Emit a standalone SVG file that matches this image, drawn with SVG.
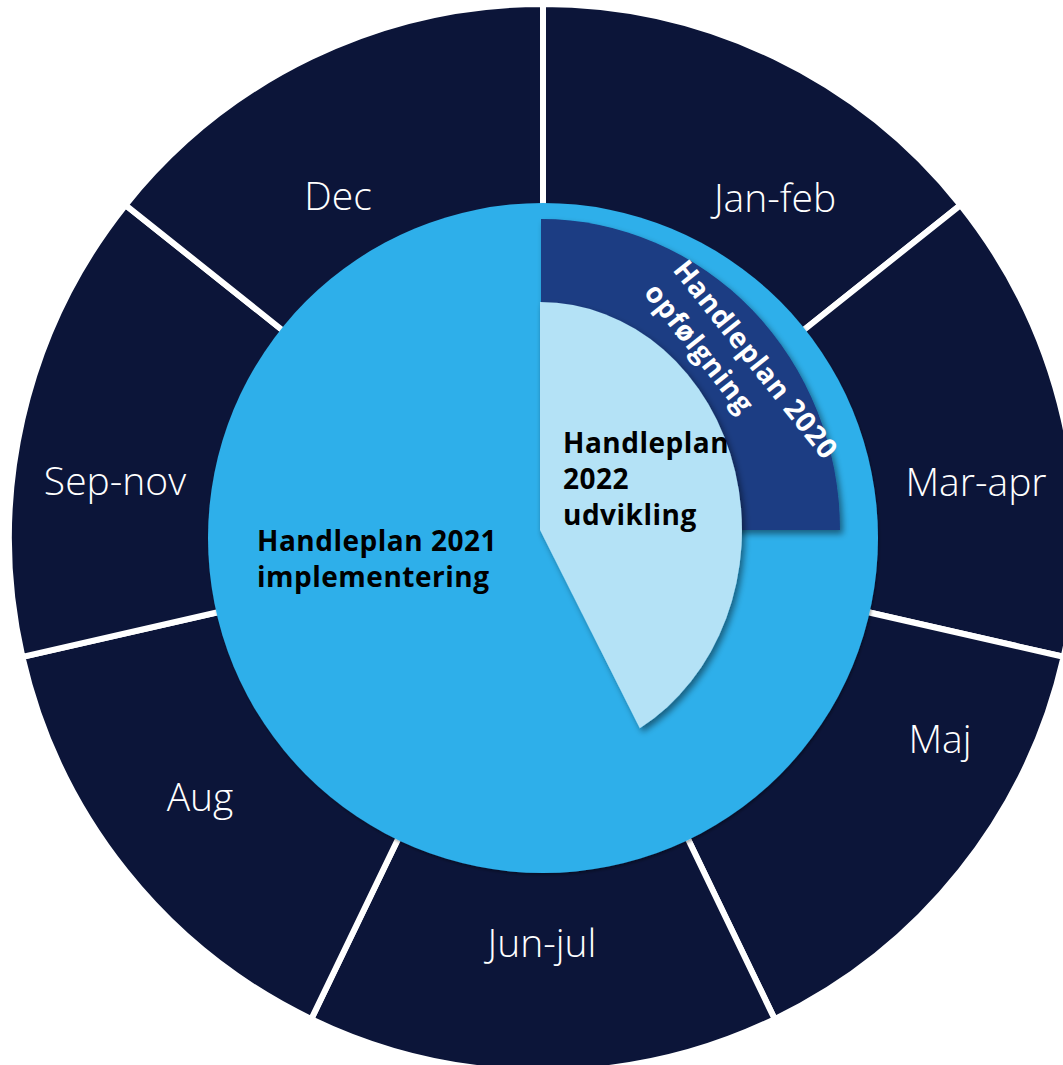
<svg xmlns="http://www.w3.org/2000/svg" width="1063" height="1065" viewBox="0 0 1063 1065">
<defs>
<style>
.seg{fill:#0c1539;stroke:#ffffff;stroke-width:6;stroke-linejoin:miter}
.mon{font-family:"Open Sans","Liberation Sans",sans-serif;font-weight:300;font-size:39px;fill:#ffffff;text-anchor:middle}
.lbl{font-family:"Open Sans","Liberation Sans",sans-serif;font-weight:700;font-size:28px;letter-spacing:0.5px;fill:#000000}
.lblw{font-family:"Open Sans","Liberation Sans",sans-serif;font-weight:700;font-size:28px;letter-spacing:0.8px;fill:#ffffff}
</style>
<filter id="sh" x="-10%" y="-10%" width="130%" height="130%">
<feDropShadow dx="3" dy="4" stdDeviation="3" flood-color="#000000" flood-opacity="0.45"/>
</filter>
<filter id="sh2" x="-5%" y="-5%" width="110%" height="110%">
<feDropShadow dx="1" dy="2" stdDeviation="1.5" flood-color="#000000" flood-opacity="0.35"/>
</filter>
</defs>
<rect width="1063" height="1065" fill="#ffffff"/>
<g id="ring">
<g id="seg-janfeb"><path class="seg" d="M543 4 A534 534 0 0 1 960.50 205.06 L793.19 338.48 A320 320 0 0 0 543 218 Z"/><text class="mon" x="775" y="212">Jan-feb</text></g>
<g id="seg-marapr"><path class="seg" d="M960.50 205.06 A534 534 0 0 1 1063.61 656.83 L854.98 609.21 A320 320 0 0 0 793.19 338.48 Z"/><text class="mon" x="976" y="496">Mar-apr</text></g>
<g id="seg-maj"><path class="seg" d="M1063.61 656.83 A534 534 0 0 1 774.69 1019.12 L681.84 826.31 A320 320 0 0 0 854.98 609.21 Z"/><text class="mon" x="940" y="753">Maj</text></g>
<g id="seg-junjul"><path class="seg" d="M774.69 1019.12 A534 534 0 0 1 311.31 1019.12 L404.16 826.31 A320 320 0 0 0 681.84 826.31 Z"/><text class="mon" x="542" y="957">Jun-jul</text></g>
<g id="seg-aug"><path class="seg" d="M311.31 1019.12 A534 534 0 0 1 22.39 656.83 L231.02 609.21 A320 320 0 0 0 404.16 826.31 Z"/><text class="mon" x="200" y="811">Aug</text></g>
<g id="seg-sepnov"><path class="seg" d="M22.39 656.83 A534 534 0 0 1 125.50 205.06 L292.81 338.48 A320 320 0 0 0 231.02 609.21 Z"/><text class="mon" x="115" y="495">Sep-nov</text></g>
<g id="seg-dec"><path class="seg" d="M125.50 205.06 A534 534 0 0 1 543 4 L543 218 A320 320 0 0 0 292.81 338.48 Z"/><text class="mon" x="338" y="210">Dec</text></g>
</g>
<g id="hp2021">
<circle cx="543" cy="538" r="335" fill="#2fafea" filter="url(#sh2)"/>
<text class="lbl" x="257" y="551">Handleplan 2021</text>
<text class="lbl" x="257" y="587">implementering</text>
</g>
<g id="hp2020">
<path d="M541 530 L541 219 A299 311 0 0 1 840 530 Z" fill="#1b3c83" filter="url(#sh)"/>
<g transform="translate(672,270) rotate(51.5)">
<text class="lblw" x="0" y="0">Handleplan 2020</text>
<text class="lblw" x="0" y="37">opfølgning</text>
</g>
</g>
<g id="hp2022">
<path d="M540 530 L540 302 A202 228 0 0 1 639.8 728.2 Z" fill="#b4e2f6" filter="url(#sh)"/>
<text class="lbl" x="563" y="453">Handleplan</text>
<text class="lbl" x="563" y="489">2022</text>
<text class="lbl" x="563" y="525">udvikling</text>
</g>
<g id="connectors"/>
</svg>
